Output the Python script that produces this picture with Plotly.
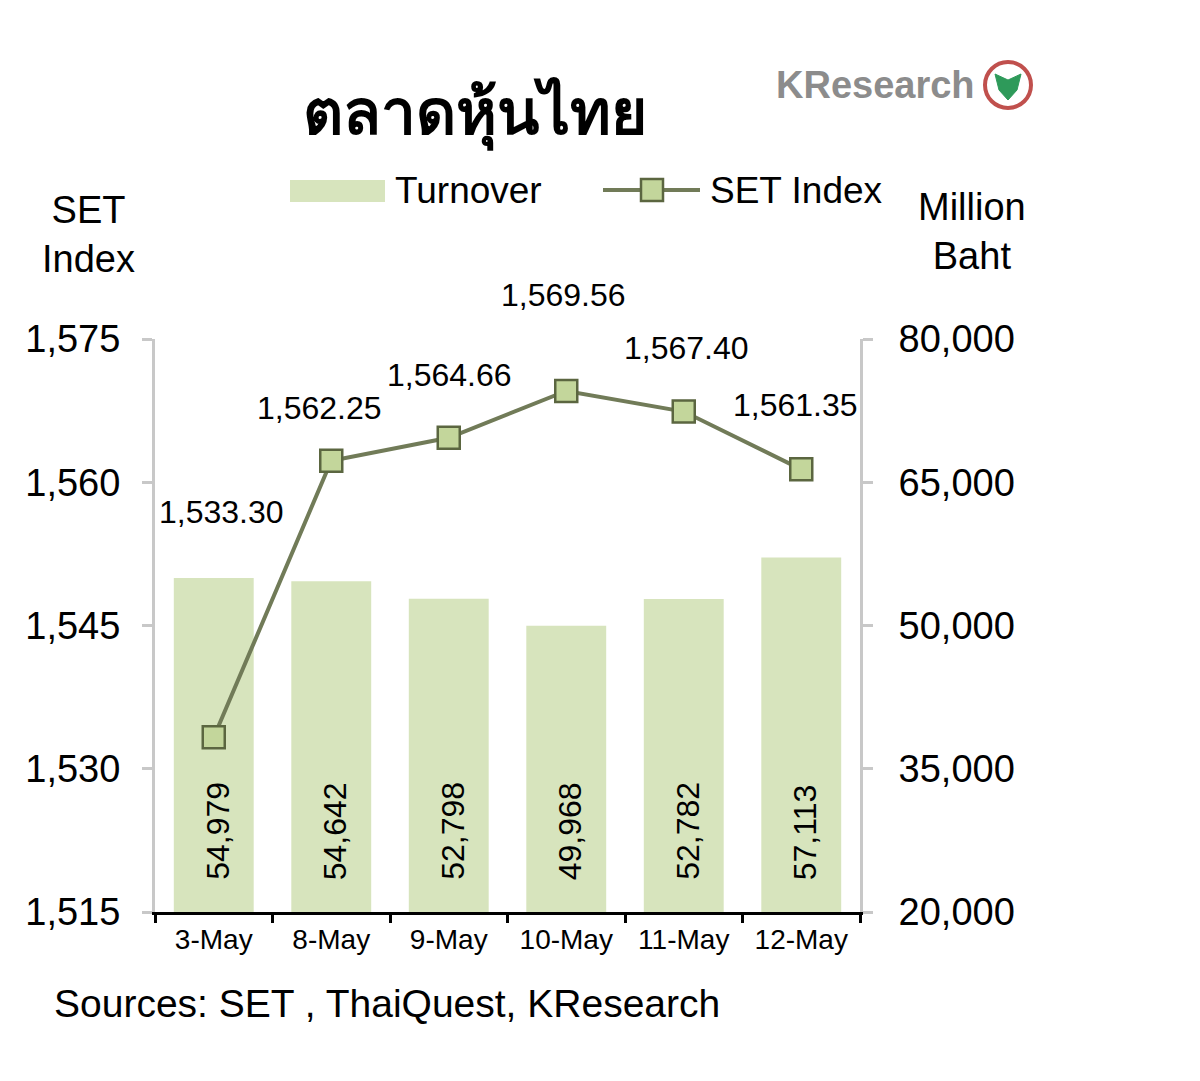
import plotly.graph_objects as go

categories = ["3-May", "8-May", "9-May", "10-May", "11-May", "12-May"]
set_index = [1533.30, 1562.25, 1564.66, 1569.56, 1567.40, 1561.35]
turnover = [54979, 54642, 52798, 49968, 52782, 57113]
left_ticks = [1515, 1530, 1545, 1560, 1575]
right_ticks = [20000, 35000, 50000, 65000, 80000]

# label placement (pixel offsets from each marker) - style only
label_dx = [8, -12, 1, -3, 3, -6]
label_dy = [225, 53, 63, 96, 64, 64]

FONT = "Liberation Sans, Arial, sans-serif"
BAR_COLOR = "#d7e4bd"
LINE_COLOR = "#717b58"
MARKER_FILL = "#c3d69b"
MARKER_LINE = "#5b6640"
AXIS_GRAY = "#c8c8c8"

# page body has a default 8px margin; compensate
OFF = 8
W, H = 1200, 1081
# plot area in screen pixels
L, R, T, B = 155, 860, 339, 912
def px(xp):
    return (xp - L) / (R - L)
def py(yp):
    return (B - yp) / (B - T)

fig = go.Figure()
fig.add_trace(go.Bar(
    x=categories, y=turnover, name="Turnover",
    marker=dict(color=BAR_COLOR, line=dict(width=0)),
    width=0.68, yaxis="y",
))
fig.add_trace(go.Scatter(
    x=categories, y=set_index, name="SET Index", yaxis="y2",
    mode="lines+markers",
    line=dict(color=LINE_COLOR, width=4),
    marker=dict(symbol="square", size=22, color=MARKER_FILL,
                line=dict(color=MARKER_LINE, width=2.5)),
))

annotations = []
for c, v, dx, dy in zip(categories, set_index, label_dx, label_dy):
    annotations.append(dict(
        x=c, y=v, xref="x", yref="y2", text=f"{v:,.2f}", showarrow=False,
        xanchor="center", yanchor="middle",
        xshift=dx, yshift=dy, font=dict(family=FONT, size=32, color="#000000"),
    ))
for c, t in zip(categories, turnover):
    annotations.append(dict(
        x=c, y=right_ticks[0], xref="x", yref="y", text=f"{t:,}", showarrow=False,
        textangle=-90, yanchor="bottom", xanchor="center", xshift=4, yshift=30,
        font=dict(family=FONT, size=32, color="#000000"),
    ))

annotations += [
    dict(text="<b>ตลาดหุ้นไทย</b>", x=px(475), y=py(110), xref="paper", yref="paper",
         xanchor="center", yanchor="middle", showarrow=False,
         font=dict(family="Noto Sans, DejaVu Sans, sans-serif", size=62, color="#000000")),
    dict(text="<b>KResearch</b>", x=px(875), y=py(85), xref="paper", yref="paper",
         xanchor="center", yanchor="middle", showarrow=False,
         font=dict(family=FONT, size=38, color="#8c8c8c")),
    dict(text="SET<br>Index", x=px(88), y=py(235), xref="paper", yref="paper",
         xanchor="center", yanchor="middle", showarrow=False,
         font=dict(family=FONT, size=38, color="#000000")),
    dict(text="Million<br>Baht", x=px(972), y=py(231), xref="paper", yref="paper",
         xanchor="center", yanchor="middle", showarrow=False,
         font=dict(family=FONT, size=38, color="#000000")),
    dict(text="Sources: SET , ThaiQuest, KResearch", x=px(52), y=py(1003),
         xref="paper", yref="paper", xanchor="left", yanchor="middle", showarrow=False,
         font=dict(family=FONT, size=39, color="#000000")),
    # legend texts
    dict(text="Turnover", x=px(393), y=py(190), xref="paper", yref="paper",
         xanchor="left", yanchor="middle", showarrow=False,
         font=dict(family=FONT, size=37, color="#000000")),
    dict(text="SET Index", x=px(708), y=py(190), xref="paper", yref="paper",
         xanchor="left", yanchor="middle", showarrow=False,
         font=dict(family=FONT, size=37, color="#000000")),
]

shapes = [
    # logo
    dict(type="circle", xref="paper", yref="paper", x0=px(985), x1=px(1031), y0=py(108), y1=py(62),
         line=dict(color="#c0504d", width=4), fillcolor="#ffffff"),
    dict(type="path", xref="paper", yref="paper",
         path=(f"M {px(995)},{py(74)} L {px(1008)},{py(80)} L {px(1021)},{py(74)} "
               f"L {px(1017)},{py(90)} L {px(1008)},{py(100)} L {px(999)},{py(90)} Z"),
         line=dict(color="#2e9a5a", width=1), fillcolor="#2e9a5a"),
    # legend swatches
    dict(type="rect", xref="paper", yref="paper", x0=px(290), x1=px(385), y0=py(202), y1=py(180),
         line=dict(width=0), fillcolor=BAR_COLOR),
    dict(type="line", xref="paper", yref="paper", x0=px(603), x1=px(700), y0=py(190), y1=py(190),
         line=dict(color=LINE_COLOR, width=4)),
    dict(type="rect", xref="paper", yref="paper", x0=px(641), x1=px(663), y0=py(201), y1=py(179),
         line=dict(color=MARKER_LINE, width=2.5), fillcolor=MARKER_FILL),
]

fig.update_layout(
    width=W, height=H,
    margin=dict(l=L - OFF, r=W - (R - OFF), t=T - OFF, b=H - (B - OFF), autoexpand=False),
    paper_bgcolor="#ffffff", plot_bgcolor="#ffffff",
    showlegend=False,
    xaxis=dict(
        type="category", showgrid=False, showline=True, linecolor="#000000", linewidth=3,
        ticks="outside", tickson="boundaries", ticklen=8, tickcolor="#000000", tickwidth=3,
        tickfont=dict(family=FONT, size=28, color="#000000"),
        range=[-0.5, 5.5],
    ),
    yaxis=dict(
        side="right", range=[right_ticks[0], right_ticks[-1]], tickvals=right_ticks,
        tickformat=",d", showgrid=False, zeroline=False, showline=True,
        linecolor=AXIS_GRAY, linewidth=3, ticks="outside", ticklen=10,
        tickcolor=AXIS_GRAY, tickwidth=3, ticklabelstandoff=18,
        tickfont=dict(family=FONT, size=38, color="#000000"),
    ),
    yaxis2=dict(
        overlaying="y", side="left", range=[left_ticks[0], left_ticks[-1]], tickvals=left_ticks,
        tickformat=",d", showgrid=False, zeroline=False, showline=True,
        linecolor=AXIS_GRAY, linewidth=3, ticks="outside", ticklen=10,
        tickcolor=AXIS_GRAY, tickwidth=3, ticklabelstandoff=14,
        tickfont=dict(family=FONT, size=38, color="#000000"),
    ),
    annotations=annotations, shapes=shapes,
)

fig.write_html("out.html")
